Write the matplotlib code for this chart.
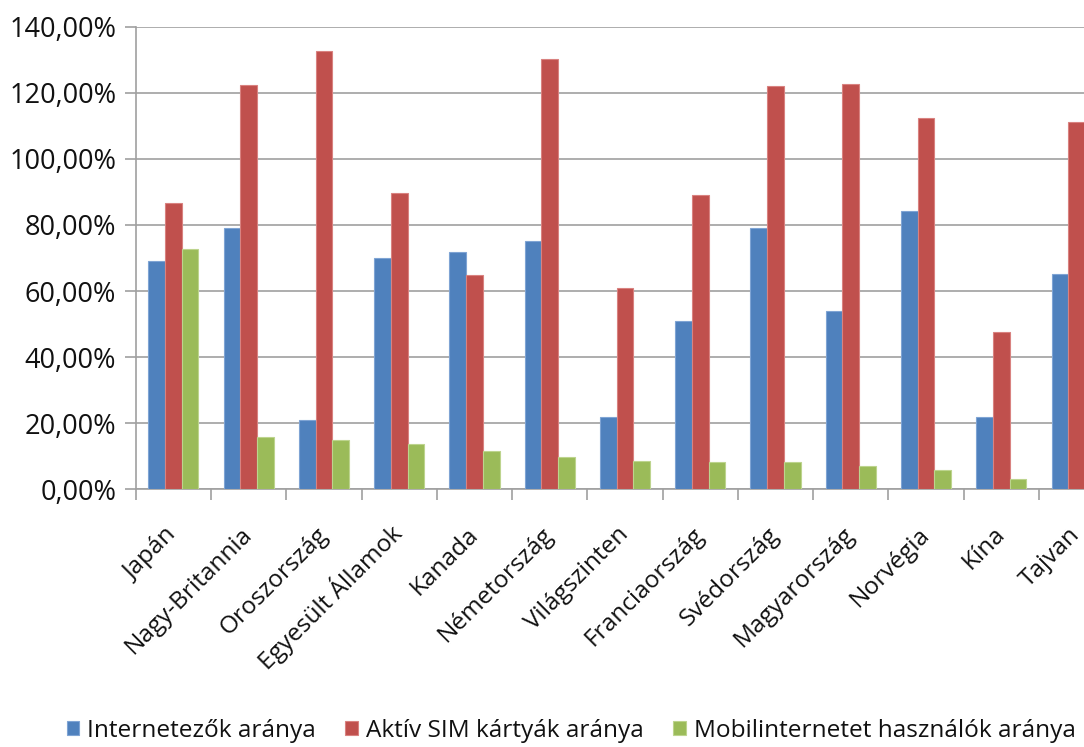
import numpy as np
import matplotlib.pyplot as plt
from matplotlib.ticker import FuncFormatter, MultipleLocator
from matplotlib.transforms import ScaledTranslation

# country labels and the three ratios (in percent)
orszagok = ["Japán", "Nagy-Britannia", "Oroszország", "Egyesült Államok", "Kanada",
            "Németország", "Világszinten", "Franciaország", "Svédország",
            "Magyarország", "Norvégia", "Kína", "Tajvan"]
internetezok = [69.1, 79.0, 21.1, 69.9, 71.9, 75.0, 21.9, 50.8, 79.0, 54.0, 84.1, 21.9, 65.2]
aktiv_sim = [86.6, 122.4, 132.7, 89.8, 64.7, 130.2, 60.8, 89.0, 121.9, 122.7, 112.4, 47.7, 111.1]
mobilinternet = [72.6, 15.7, 14.8, 13.8, 11.5, 9.7, 8.7, 8.4, 8.4, 6.9, 5.7, 3.2, 2.5]

sorozatok = [
    ("Internetezők aránya", internetezok, "#4F81BD", "#7FA4D4"),
    ("Aktív SIM kártyák aránya", aktiv_sim, "#C0504D", "#D98280"),
    ("Mobilinternetet használók aránya", mobilinternet, "#9BBB59", "#BDD48E"),
]

plt.rcParams['font.family'] = ['Open Sans', 'DejaVu Sans']
racs = "#A0A0A0"
szoveg = "#111111"

fig = plt.figure(figsize=(10.84, 7.47), dpi=100)
# the plot area runs a little past the right edge, so the last group is cut
ax = fig.add_axes([0.1252, 0.345, 0.9027, 0.6193])

x = np.arange(len(orszagok))
w = 1 / 4.5  # Excel gap width 150%
for i, (nev, ertekek, szin, szegely) in enumerate(sorozatok):
    ax.bar(x + (i - 1) * w, ertekek, width=w, color=szin, edgecolor=szegely,
           linewidth=0.8, label=nev, zorder=3)

ax.set_xlim(-0.5, len(orszagok) - 0.5)
ax.set_ylim(0, 140)
ax.yaxis.set_major_locator(MultipleLocator(20))
ax.yaxis.set_major_formatter(FuncFormatter(lambda v, p: f"{v:.2f}%".replace(".", ",")))
ax.grid(axis='y', color=racs, linewidth=1.2, zorder=0)
ax.set_axisbelow(True)

for s in ["top", "right"]:
    ax.spines[s].set_visible(False)
for s in ["left", "bottom"]:
    ax.spines[s].set_color(racs)
    ax.spines[s].set_linewidth(1.2)

# category ticks sit on the group boundaries
ax.set_xticks(np.arange(len(orszagok) + 1) - 0.5)
ax.set_xticklabels([])
ax.tick_params(axis='x', length=8, width=1.2, color=racs, direction='out')
ax.tick_params(axis='y', length=8, width=1.2, color=racs, direction='out',
               labelsize=19.5, labelcolor=szoveg, pad=6)

# slanted country names under the group centres
eltolas = ax.get_xaxis_transform() + ScaledTranslation(0.045, -0.46, fig.dpi_scale_trans)
for xi, nev in zip(x, orszagok):
    ax.text(xi, 0, nev, transform=eltolas, rotation=45, rotation_mode='anchor',
            ha='right', va='baseline', fontsize=17.6, color=szoveg, clip_on=False)

fig.legend(loc='lower center', bbox_to_anchor=(0.527, -0.024), ncol=3, frameon=False,
           fontsize=17.6, handlelength=0.5, handleheight=0.5, handletextpad=0.35,
           columnspacing=1.2, labelcolor=szoveg)

fig.savefig("out.png", dpi=100)
